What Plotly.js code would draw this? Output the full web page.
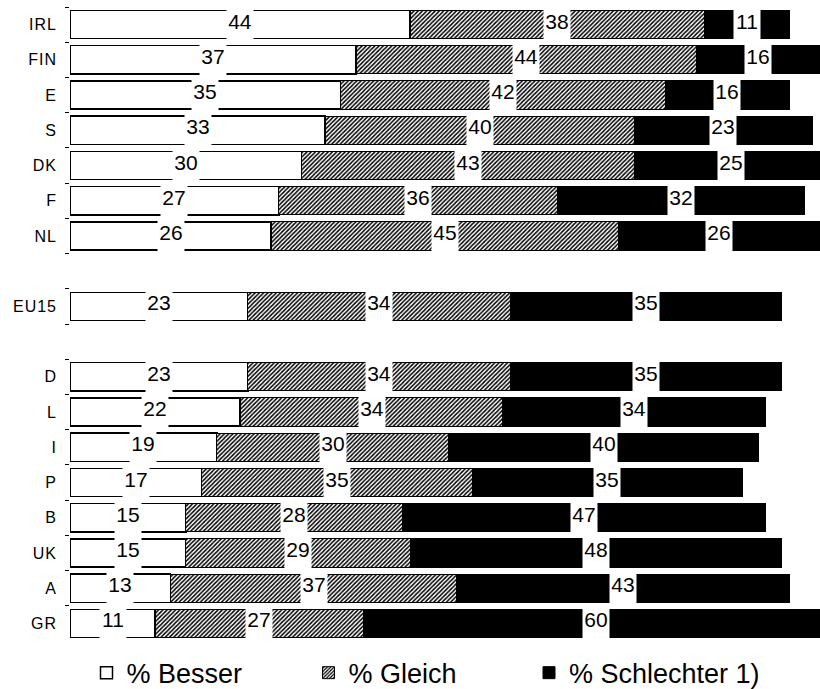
<!DOCTYPE html>
<html>
<head>
<meta charset="utf-8">
<script src="https://cdn.plot.ly/plotly-3.0.1.min.js"></script>
<style>
html,body{margin:0;padding:0;background:#fff;}
#chart{width:820px;height:689px;}
.ytick text{letter-spacing:1px;}
</style>
</head>
<body>
<div id="chart"></div>
<script>
// Categories (blank entries are spacer rows)
const categories = ["IRL","FIN","E","S","DK","F","NL"," ","EU15","  ","D","L","I","P","B","UK","A","GR"];
const besser     = [44, 37, 35, 33, 30, 27, 26, null, 23, null, 23, 22, 19, 17, 15, 15, 13, 11];
const gleich     = [38, 44, 42, 40, 43, 36, 45, null, 34, null, 34, 34, 30, 35, 28, 29, 37, 27];
const schlechter = [11, 16, 16, 23, 25, 32, 26, null, 35, null, 35, 34, 40, 35, 47, 48, 43, 60];
const seriesNames = ["% Besser", "% Gleich", "% Schlechter 1)"];

const FONT = "Liberation Sans, Arial, Helvetica, sans-serif";

const traces = [
  {
    type: "bar", orientation: "h", name: seriesNames[0], legend: "legend",
    y: categories, x: besser, width: 0.8,
    marker: {color: "#ffffff", line: {color: "#000", width: 1.5}},
    hoverinfo: "skip"
  },
  {
    type: "bar", orientation: "h", name: seriesNames[1], legend: "legend2",
    y: categories, x: gleich, width: 0.8,
    marker: {color: "#ffffff", line: {color: "#000", width: 1},
             pattern: {shape: "/", fgcolor: "#000", bgcolor: "#fff", size: 3, solidity: 0.5}},
    hoverinfo: "skip"
  },
  {
    type: "bar", orientation: "h", name: seriesNames[2], legend: "legend3",
    y: categories, x: schlechter, width: 0.8,
    marker: {color: "#000000", line: {color: "#000", width: 1}},
    hoverinfo: "skip"
  }
];

// Value labels in white boxes at the centre of each segment
const annotations = [];
categories.forEach((c, i) => {
  if (besser[i] == null) return;
  const segs = [besser[i], gleich[i], schlechter[i]];
  let start = 0;
  segs.forEach(v => {
    annotations.push({
      x: start + v / 2, y: c, xref: "x", yref: "y",
      text: String(v), showarrow: false,
      bgcolor: "#ffffff", width: 26, height: 30, valign: "top",
      borderpad: 0,
      font: {family: FONT, size: 21, color: "#000"}
    });
    start += v;
  });
});

const legendBase = {
  orientation: "h", y: -0.012, yanchor: "top", xanchor: "left",
  font: {family: FONT, size: 27, color: "#000"},
  bgcolor: "rgba(0,0,0,0)", itemclick: false, itemdoubleclick: false
};

const layout = {
  width: 820, height: 689,
  margin: {l: 70, r: 0, t: 7, b: 48, autoexpand: false},
  barmode: "stack",
  paper_bgcolor: "#fff", plot_bgcolor: "#fff",
  font: {family: FONT, color: "#000"},
  showlegend: true,
  legend: Object.assign({}, legendBase, {x: 0.022}),
  legend2: Object.assign({}, legendBase, {x: 0.318}),
  legend3: Object.assign({}, legendBase, {x: 0.612}),
  xaxis: {
    range: [0, 97], visible: false, showgrid: false, zeroline: false
  },
  yaxis: {
    type: "category", categoryorder: "array", categoryarray: categories,
    autorange: "reversed", showgrid: false, zeroline: false, showline: false,
    ticks: "outside", tickson: "boundaries", ticklen: 4, tickcolor: "#000", tickwidth: 1,
    ticklabelstandoff: 12,
    tickfont: {family: FONT, size: 16, color: "#000"}
  },
  annotations: annotations
};

Plotly.newPlot("chart", traces, layout, {displayModeBar: false, staticPlot: true});
</script>
</body>
</html>
